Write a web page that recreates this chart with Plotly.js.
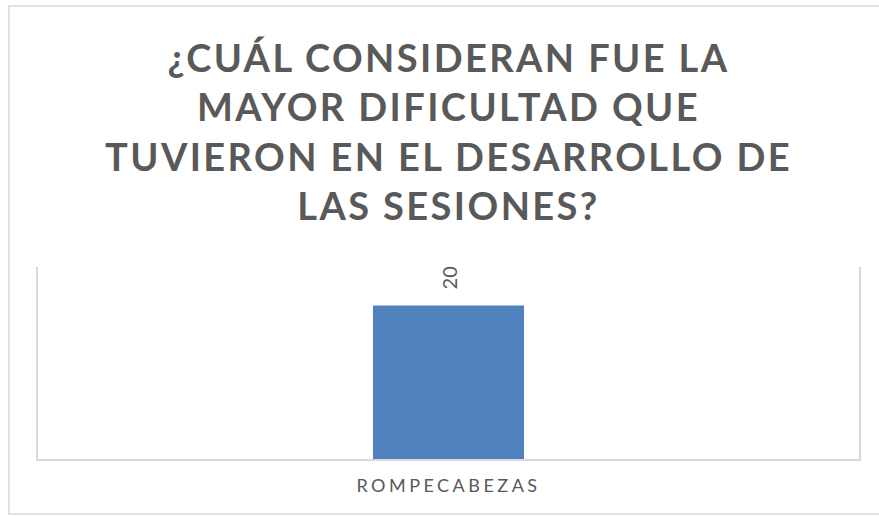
<!DOCTYPE html>
<html>
<head>
<meta charset="utf-8">
<script src="https://cdn.plot.ly/plotly-3.0.1.min.js"></script>
<style>
body{margin:0;background:#fff;}
#chart{width:879px;height:516px;}
.gtitle{letter-spacing:2.4px;}
.xtick text{letter-spacing:3.5px;}
</style>
</head>
<body>
<div id="chart"></div>
<script>
const titleLines = ["¿CUÁL CONSIDERAN FUE LA", "MAYOR DIFICULTAD QUE", "TUVIERON EN EL DESARROLLO DE", "LAS SESIONES?"];
const categories = ["ROMPECABEZAS"];
const values = [20];

const grey = "#d9d9d9";
const trace = {
  type: "bar",
  x: categories,
  y: values,
  width: 0.184,
  marker: {color: "#4f81bd"},
  hoverinfo: "none"
};

const layout = {
  width: 879, height: 516,
  margin: {l: 38, r: 20, t: 267, b: 57},
  paper_bgcolor: "#ffffff", plot_bgcolor: "#ffffff",
  showlegend: false,
  title: {
    text: titleLines.join("<br>"),
    font: {family: "Lato", size: 38, color: "#595959", weight: 700},
    x: 0.5, xref: "paper", xanchor: "center",
    y: 1 - 72/516, yref: "container", yanchor: "top"
  },
  xaxis: {
    range: [-0.5, 0.5], showgrid: false, zeroline: false,
    showline: true, linecolor: grey, linewidth: 2,
    ticks: "", ticklabelstandoff: 9,
    tickfont: {family: "Lato", size: 18, color: "#595959"},
    fixedrange: true
  },
  yaxis: {
    range: [0, 25], showgrid: false, zeroline: false,
    showline: true, mirror: true, linecolor: grey, linewidth: 2,
    showticklabels: false, ticks: "", fixedrange: true
  },
  annotations: categories.map((c, i) => ({
    x: c, y: values[i], xref: "x", yref: "y",
    text: String(values[i]), showarrow: false, textangle: -90,
    yanchor: "bottom", yshift: 14,
    font: {family: "Lato", size: 20, color: "#595959"}
  })),
  shapes: [{
    type: "rect", xref: "paper", yref: "paper",
    x0: (9 - 38) / 821, x1: (890 - 38) / 821,
    y0: (459 - 514) / 192, y1: (459 - 6) / 192,
    line: {color: grey, width: 1.5}, fillcolor: "rgba(0,0,0,0)", layer: "below"
  }]
};

Plotly.newPlot("chart", [trace], layout, {displayModeBar: false, staticPlot: true});
</script>
</body>
</html>
